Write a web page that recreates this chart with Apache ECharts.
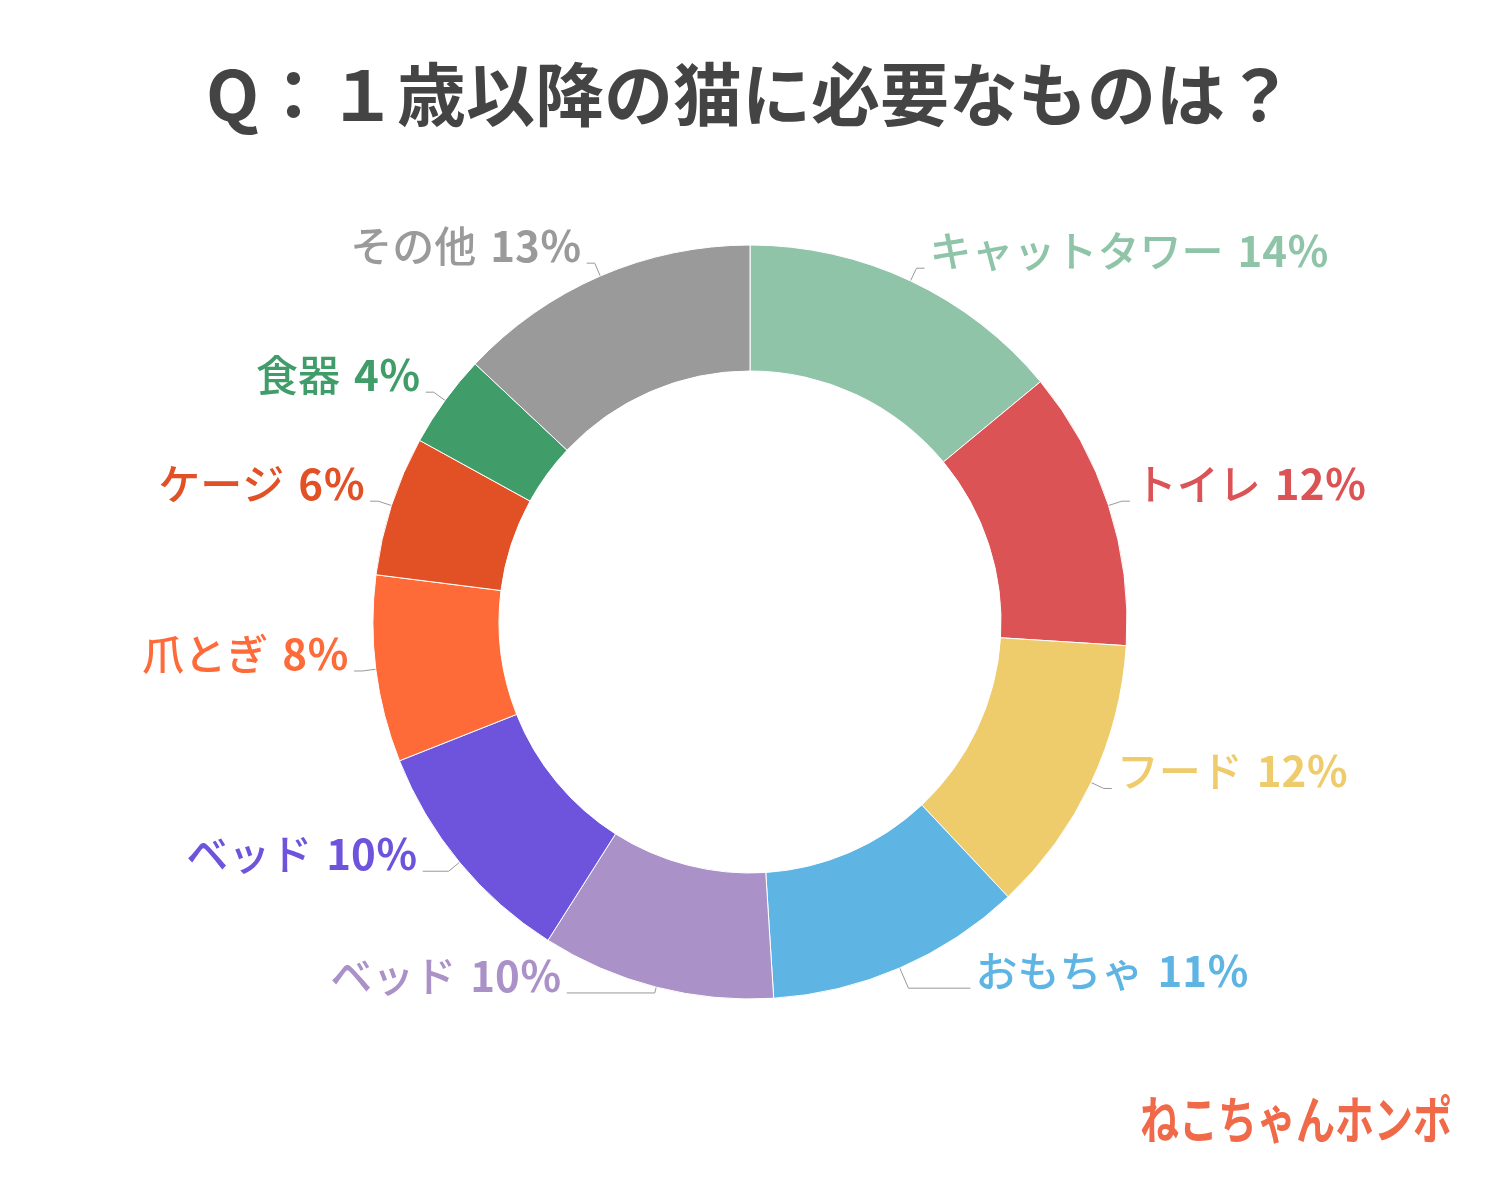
<!DOCTYPE html>
<html><head><meta charset="utf-8">
<script src="https://cdn.jsdelivr.net/npm/echarts@6/dist/echarts.min.js"></script>
<style>html,body{margin:0;padding:0;background:#fff}#c{width:1500px;height:1200px}</style>
</head><body><div id="c"></div>
<script>
const categories = ['キャットタワー','トイレ','フード','おもちゃ','ベッド','ベッド','爪とぎ','ケージ','食器','その他'];
const values = [14,12,12,11,10,10,8,6,4,13];
const colors = ['#8fc4a9','#dc5356','#eecb6b','#5eb5e3','#aa91c8','#6e54dc','#fe6a38','#e25026','#409d6a','#9a9a9a'];
const titleText = 'Q：１歳以降の猫に必要なものは？';
const brandText = 'ねこちゃんホンポ';

// per-slice label-line lengths (style only)
const lineLen = [14,14,14,22,6,14,14,14,14,14];
const lineLen2 = [8,8,8,62,88,26,8,8,8,8];

const FONT = '"Noto Sans CJK JP", "Noto Sans", sans-serif';
const chart = echarts.init(document.getElementById('c'));
chart.setOption({
  backgroundColor: '#fff',
  animation: false,
  title: {
    text: titleText, left: 'center', top: 55,
    textStyle: {fontFamily: FONT, fontSize: 69, fontWeight: 'bold', color: '#444444'}
  },
  graphic: [{
    type: 'text', x: 1140, y: 1094, scaleY: 1.3,
    style: {text: brandText, fontFamily: FONT, fontSize: 39, fontWeight: 'bold', fill: '#f06a4a', textVerticalAlign: 'top'}
  }],
  series: [{
    type: 'pie',
    center: [750, 622],
    radius: [251, 377],
    startAngle: 90,
    clockwise: true,
    avoidLabelOverlap: true,
    itemStyle: {borderColor: '#ffffff', borderWidth: 1},
    labelLine: {show: true, length: 14, length2: 8, lineStyle: {color: '#999', width: 1}},
    label: {
      show: true, position: 'outside',
      padding: [0, 0, 34, 0],
      formatter: p => '{n|' + p.name + '}{s| }{v|' + p.value + '％}',
      rich: {
        n: {fontFamily: FONT, fontSize: 42, fontWeight: 500},
        s: {fontFamily: FONT, fontSize: 42, width: 14},
        v: {fontFamily: FONT, fontSize: 42, fontWeight: 'bold'}
      }
    },
    data: categories.map((c, i) => ({
      name: c, value: values[i],
      itemStyle: {color: colors[i]},
      labelLine: {length: lineLen[i], length2: lineLen2[i]},
      label: {color: colors[i], rich: {n: {color: colors[i]}, v: {color: colors[i]}}}
    }))
  }]
});
</script></body></html>
